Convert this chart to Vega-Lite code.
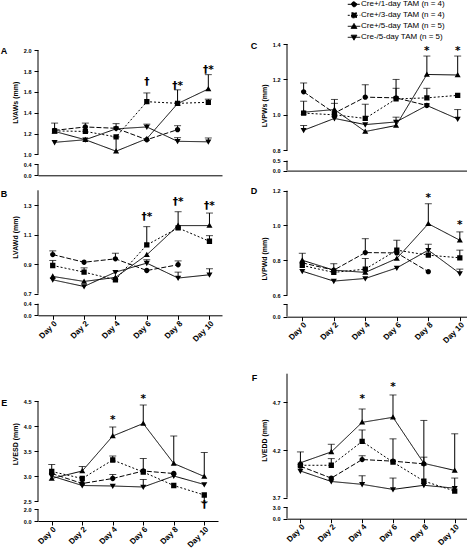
{
  "$schema": "https://vega.github.io/schema/vega-lite/v6.json",
  "autosize": {"type": "pad"},
  "padding": 0,
  "background": "white",
  "bounds": "full",
  "spacing": 28,
  "config": {
    "view": {"stroke": null},
    "font": "Liberation Sans",
    "axis": {"labelFont": "Liberation Sans", "titleFont": "Liberation Sans", "labelFontWeight": "bold", "titleFontWeight": "bold", "labelFontSize": 5.5, "titleFontSize": 7, "labelColor": "black", "titleColor": "black", "domainColor": "black", "tickColor": "black", "tickSize": 4, "grid": false, "labelPadding": 3, "titlePadding": 5, "labelFlush": false, "labelOverlap": false},
    "axisX": {"labelFontSize": 8, "labelAngle": -45, "labelPadding": 0},
    "title": {"font": "Liberation Sans", "fontSize": 9, "fontWeight": "bold", "color": "black"}
  },
  "datasets": {
    "pts": [
      {"p":"A","g":"c1","n":0,"v":1.23,"e":1.30},{"p":"A","g":"c1","n":2,"v":1.263,"e":1.30},{"p":"A","g":"c1","n":4,"v":1.25,"e":1.295},{"p":"A","g":"c1","n":6,"v":1.14},{"p":"A","g":"c1","n":8,"v":1.237,"e":1.275},
      {"p":"A","g":"c3","n":0,"v":1.225},{"p":"A","g":"c3","n":2,"v":1.22},{"p":"A","g":"c3","n":4,"v":1.167},{"p":"A","g":"c3","n":6,"v":1.506,"e":1.59},{"p":"A","g":"c3","n":8,"v":1.49},{"p":"A","g":"c3","n":10,"v":1.50,"e":1.53},
      {"p":"A","g":"c5","n":0,"v":1.22},{"p":"A","g":"c5","n":2,"v":1.14},{"p":"A","g":"c5","n":4,"v":1.03,"e":1.167},{"p":"A","g":"c5","n":6,"v":1.15},{"p":"A","g":"c5","n":8,"v":1.487,"e":1.62},{"p":"A","g":"c5","n":10,"v":1.628,"e":1.766},
      {"p":"A","g":"n5","n":0,"v":1.115},{"p":"A","g":"n5","n":2,"v":1.14},{"p":"A","g":"n5","n":4,"v":1.245},{"p":"A","g":"n5","n":6,"v":1.263,"e":1.29},{"p":"A","g":"n5","n":8,"v":1.125,"e":1.16},{"p":"A","g":"n5","n":10,"v":1.12,"e":1.157},
      {"p":"B","g":"c1","n":0,"v":0.965,"e":0.99},{"p":"B","g":"c1","n":2,"v":0.913},{"p":"B","g":"c1","n":4,"v":0.936,"e":0.974},{"p":"B","g":"c1","n":6,"v":0.857},{"p":"B","g":"c1","n":8,"v":0.896,"e":0.922},
      {"p":"B","g":"c3","n":0,"v":0.891,"e":0.925},{"p":"B","g":"c3","n":2,"v":0.846,"e":0.875},{"p":"B","g":"c3","n":4,"v":0.794},{"p":"B","g":"c3","n":6,"v":1.03,"e":1.154},{"p":"B","g":"c3","n":8,"v":1.145},{"p":"B","g":"c3","n":10,"v":1.055,"e":1.093},
      {"p":"B","g":"c5","n":0,"v":0.817},{"p":"B","g":"c5","n":2,"v":0.783},{"p":"B","g":"c5","n":4,"v":0.81},{"p":"B","g":"c5","n":6,"v":0.963},{"p":"B","g":"c5","n":8,"v":1.161,"e":1.255},{"p":"B","g":"c5","n":10,"v":1.161,"e":1.246},
      {"p":"B","g":"n5","n":0,"v":0.794},{"p":"B","g":"n5","n":2,"v":0.749},{"p":"B","g":"n5","n":4,"v":0.846},{"p":"B","g":"n5","n":6,"v":0.907,"e":0.93},{"p":"B","g":"n5","n":8,"v":0.806,"e":0.846},{"p":"B","g":"n5","n":10,"v":0.828,"e":0.869},
      {"p":"C","g":"c1","n":0,"v":1.13,"e":1.18},{"p":"C","g":"c1","n":2,"v":1.01},{"p":"C","g":"c1","n":4,"v":1.10,"e":1.17},{"p":"C","g":"c1","n":6,"v":1.096,"e":1.15},{"p":"C","g":"c1","n":8,"v":1.053},
      {"p":"C","g":"c3","n":0,"v":1.01,"e":1.077},{"p":"C","g":"c3","n":2,"v":1.0},{"p":"C","g":"c3","n":4,"v":0.98,"e":1.06},{"p":"C","g":"c3","n":6,"v":1.09,"e":1.20},{"p":"C","g":"c3","n":8,"v":1.096,"e":1.15},{"p":"C","g":"c3","n":10,"v":1.11},
      {"p":"C","g":"c5","n":0,"v":1.015},{"p":"C","g":"c5","n":2,"v":1.03,"e":1.087},{"p":"C","g":"c5","n":4,"v":0.906},{"p":"C","g":"c5","n":6,"v":0.94,"e":0.987},{"p":"C","g":"c5","n":8,"v":1.228,"e":1.332},{"p":"C","g":"c5","n":10,"v":1.225,"e":1.332},
      {"p":"C","g":"n5","n":0,"v":0.913,"e":0.94},{"p":"C","g":"n5","n":2,"v":0.98,"e":1.065},{"p":"C","g":"n5","n":4,"v":0.945},{"p":"C","g":"n5","n":6,"v":0.96},{"p":"C","g":"n5","n":8,"v":1.053},{"p":"C","g":"n5","n":10,"v":0.977,"e":1.03},
      {"p":"D","g":"c1","n":0,"v":0.785,"e":0.84},{"p":"D","g":"c1","n":2,"v":0.743,"e":0.78},{"p":"D","g":"c1","n":4,"v":0.844,"e":0.924},{"p":"D","g":"c1","n":6,"v":0.842},{"p":"D","g":"c1","n":8,"v":0.734},
      {"p":"D","g":"c3","n":0,"v":0.77},{"p":"D","g":"c3","n":2,"v":0.73},{"p":"D","g":"c3","n":4,"v":0.749,"e":0.81},{"p":"D","g":"c3","n":6,"v":0.858,"e":0.915},{"p":"D","g":"c3","n":8,"v":0.829},{"p":"D","g":"c3","n":10,"v":0.814,"e":0.858},
      {"p":"D","g":"c5","n":0,"v":0.80},{"p":"D","g":"c5","n":2,"v":0.743},{"p":"D","g":"c5","n":4,"v":0.73},{"p":"D","g":"c5","n":6,"v":0.81},{"p":"D","g":"c5","n":8,"v":1.01,"e":1.125},{"p":"D","g":"c5","n":10,"v":0.915,"e":0.963},
      {"p":"D","g":"n5","n":0,"v":0.737},{"p":"D","g":"n5","n":2,"v":0.68},{"p":"D","g":"n5","n":4,"v":0.695},{"p":"D","g":"n5","n":6,"v":0.756},{"p":"D","g":"n5","n":8,"v":0.858,"e":0.892},{"p":"D","g":"n5","n":10,"v":0.724,"e":0.749},
      {"p":"E","g":"c1","n":0,"v":3.05,"e":3.23},{"p":"E","g":"c1","n":2,"v":2.85},{"p":"E","g":"c1","n":4,"v":2.95,"e":3.03},{"p":"E","g":"c1","n":6,"v":3.10},{"p":"E","g":"c1","n":8,"v":3.05},
      {"p":"E","g":"c3","n":0,"v":3.09},{"p":"E","g":"c3","n":2,"v":2.95},{"p":"E","g":"c3","n":4,"v":3.32,"e":3.40},{"p":"E","g":"c3","n":6,"v":3.08,"e":3.35},{"p":"E","g":"c3","n":8,"v":2.81},{"p":"E","g":"c3","n":10,"v":2.62,"e":2.45},
      {"p":"E","g":"c5","n":0,"v":2.95},{"p":"E","g":"c5","n":2,"v":3.10,"e":3.19},{"p":"E","g":"c5","n":4,"v":3.80,"e":3.98},{"p":"E","g":"c5","n":6,"v":4.05,"e":4.42},{"p":"E","g":"c5","n":8,"v":3.25,"e":3.80},{"p":"E","g":"c5","n":10,"v":2.99,"e":3.47},
      {"p":"E","g":"n5","n":0,"v":3.0},{"p":"E","g":"n5","n":2,"v":2.81},{"p":"E","g":"n5","n":4,"v":2.80},{"p":"E","g":"n5","n":6,"v":2.78,"e":2.93},{"p":"E","g":"n5","n":8,"v":3.0},{"p":"E","g":"n5","n":10,"v":2.83},
      {"p":"F","g":"c1","n":0,"v":4.03},{"p":"F","g":"c1","n":2,"v":3.905},{"p":"F","g":"c1","n":4,"v":4.10,"e":4.14},{"p":"F","g":"c1","n":6,"v":4.083},{"p":"F","g":"c1","n":8,"v":4.055},
      {"p":"F","g":"c3","n":0,"v":4.04,"e":4.18},{"p":"F","g":"c3","n":2,"v":4.04,"e":4.11},{"p":"F","g":"c3","n":4,"v":4.29,"e":4.41},{"p":"F","g":"c3","n":6,"v":4.073,"e":4.317},{"p":"F","g":"c3","n":8,"v":3.874,"e":4.125},{"p":"F","g":"c3","n":10,"v":3.77},
      {"p":"F","g":"c5","n":0,"v":4.066},{"p":"F","g":"c5","n":2,"v":4.18,"e":4.26},{"p":"F","g":"c5","n":4,"v":4.49,"e":4.63},{"p":"F","g":"c5","n":6,"v":4.543,"e":4.777},{"p":"F","g":"c5","n":8,"v":4.06,"e":4.51},{"p":"F","g":"c5","n":10,"v":3.986,"e":4.37},
      {"p":"F","g":"n5","n":0,"v":3.98},{"p":"F","g":"n5","n":2,"v":3.87},{"p":"F","g":"n5","n":4,"v":3.84,"e":3.93},{"p":"F","g":"n5","n":6,"v":3.787,"e":3.906},{"p":"F","g":"n5","n":8,"v":3.83},{"p":"F","g":"n5","n":10,"v":3.80,"e":3.906}
    ],
    "ann": [
      {"p":"A","n":6,"v":1.70,"t":"†"},{"p":"A","n":8,"v":1.66,"t":"†*"},{"p":"A","n":10,"v":1.815,"t":"†*"},
      {"p":"B","n":6,"v":1.217,"t":"†*"},{"p":"B","n":8,"v":1.318,"t":"†*"},{"p":"B","n":10,"v":1.291,"t":"†*"},
      {"p":"C","n":8,"v":1.36,"t":"*"},{"p":"C","n":10,"v":1.36,"t":"*"},
      {"p":"D","n":8,"v":1.157,"t":"*"},{"p":"D","n":10,"v":1.0,"t":"*"},
      {"p":"E","n":4,"v":4.13,"t":"*"},{"p":"E","n":6,"v":4.55,"t":"*"},{"p":"E","n":10,"v":2.25,"t":"†"},
      {"p":"F","n":4,"v":4.735,"t":"*"},{"p":"F","n":6,"v":4.857,"t":"*"}
    ],
    "brk": [
      {"p":"A","lo":0,"hi":0.4},{"p":"A","lo":1.0,"hi":2.0},
      {"p":"B","lo":0,"hi":0.4},{"p":"B","lo":0.7,"hi":1.4},
      {"p":"C","lo":0,"hi":0.5},{"p":"C","lo":0.8,"hi":1.4},
      {"p":"D","lo":0,"hi":0.3},{"p":"D","lo":0.6,"hi":1.2},
      {"p":"E","lo":0,"hi":2.0},{"p":"E","lo":2.5,"hi":4.5},
      {"p":"F","lo":0,"hi":3.0},{"p":"F","lo":3.7,"hi":5.0}
    ]
  },
  "hconcat": [
    {
      "bounds": "flush",
      "spacing": 8,
      "vconcat": [
        {
          "width": 184, "height": 136.3,
          "title": {"text": "A", "orient": "left", "anchor": "end", "angle": 0, "align": "left", "baseline": "middle", "dy": 12.3, "offset": 4, "frame": "group"},
          "layer": [
            {"data": {"name": "pts"}, "transform": [{"filter": "datum.p == 'A'"}],
             "layer": [
               {"mark": {"type": "line", "color": "black", "strokeWidth": 1},
                "encoding": {"x": {"field": "n", "type": "quantitative", "scale": {"domain": [-1.08, 10.89], "nice": false, "zero": false}, "axis": {"values": [0, 2, 4, 6, 8, 10], "tickCount": 50, "labels": false, "ticks": false, "title": null, "labelOverlap": false}},
                             "y": {"field": "v", "type": "quantitative", "scale": {"domain": [0, 0.4, 1.0, 2.0], "range": [136.3, 125.3, 115.3, 11.3], "zero": false, "nice": false}, "axis": {"title": "LVAWs (mm)", "values": [0, 0.4, 1, 1.2, 1.4, 1.6, 1.8, 2], "tickCount": 50, "format": ".1f", "domain": false, "titleY": 63.3, "labelOverlap": false}},
                             "strokeDash": {"field": "g", "type": "nominal", "scale": {"domain": ["c1", "c3", "c5", "n5"], "range": [[5, 2], [2, 2], [1, 0], [1, 0]]}}}},
               {"transform": [{"filter": "isValid(datum.e)"}], "mark": {"type": "rule", "color": "black", "strokeWidth": 1},
                "encoding": {"x": {"field": "n", "type": "quantitative"}, "y": {"field": "v", "type": "quantitative"}, "y2": {"field": "e"}}},
               {"transform": [{"filter": "isValid(datum.e)"}], "mark": {"type": "tick", "orient": "horizontal", "color": "black", "size": 7, "thickness": 1},
                "encoding": {"x": {"field": "n", "type": "quantitative"}, "y": {"field": "e", "type": "quantitative"}}},
               {"mark": {"type": "point", "filled": true, "color": "black", "size": 28, "opacity": 1, "strokeWidth": 0},
                "encoding": {"x": {"field": "n", "type": "quantitative"}, "y": {"field": "v", "type": "quantitative"},
                             "shape": {"field": "g", "type": "nominal", "scale": {"domain": ["c1", "c3", "c5", "n5"], "range": ["M-2.5,0H2.5M1,0A1,1,0,1,1,-1,0A1,1,0,1,1,1,0Z", "M-2.5,0H2.5M-1,-1H1V1H-1Z", "M-2.5,0H2.5M0,-1.15L1.15,0.85H-1.15Z", "M-2.5,0H2.5M0,1.15L1.15,-0.85H-1.15Z"]},
                               "legend": {"orient": "none", "legendX": 312, "legendY": -38.7, "title": null, "padding": 0, "rowPadding": 1, "labelOffset": 3, "labelFontSize": 8, "labelFont": "Liberation Sans", "labelColor": "black", "symbolSize": 25, "symbolStrokeWidth": 1, "symbolStrokeColor": "black", "symbolFillColor": "black",
                                 "labelExpr": "datum.label == 'c1' ? 'Cre+/1-day TAM (n = 4)' : datum.label == 'c3' ? 'Cre+/3-day TAM (n = 4)' : datum.label == 'c5' ? 'Cre+/5-day TAM (n = 5)' : 'Cre-/5-day TAM (n = 5)'",
                                 "encode": {"symbols": {"update": {"stroke": {"value": "black"}, "strokeWidth": {"value": 1}, "fill": {"value": "black"}}}}}}}}
             ]},
            {"data": {"name": "brk"}, "transform": [{"filter": "datum.p == 'A'"}], "mark": {"type": "rule", "color": "black", "strokeWidth": 1},
             "encoding": {"x": {"datum": -1.08, "type": "quantitative"}, "y": {"field": "lo", "type": "quantitative"}, "y2": {"field": "hi"}}},
            {"data": {"name": "ann"}, "transform": [{"filter": "datum.p == 'A'"}], "mark": {"type": "text", "fontSize": 10.5, "font": "DejaVu Sans", "fontWeight": "bold", "color": "black", "baseline": "middle"},
             "encoding": {"x": {"field": "n", "type": "quantitative"}, "y": {"field": "v", "type": "quantitative"}, "text": {"field": "t"}}}
          ]
        },
        {
          "width": 184, "height": 131.3,
          "title": {"text": "B", "orient": "left", "anchor": "end", "angle": 0, "align": "left", "baseline": "middle", "dy": 10, "offset": 4, "frame": "group"},
          "layer": [
            {"data": {"name": "pts"}, "transform": [{"filter": "datum.p == 'B'"}],
             "layer": [
               {"mark": {"type": "line", "color": "black", "strokeWidth": 1},
                "encoding": {"x": {"field": "n", "type": "quantitative", "scale": {"domain": [-0.94, 10.8], "nice": false, "zero": false}, "axis": {"values": [0, 2, 4, 6, 8, 10], "tickCount": 50, "labelExpr": "'Day ' + datum.value", "title": null, "labelOverlap": false}},
                             "y": {"field": "v", "type": "quantitative", "scale": {"domain": [0, 0.4, 0.7, 1.4], "range": [131.3, 119.7, 109.7, 6.3], "zero": false, "nice": false}, "axis": {"title": "LVAWd (mm)", "values": [0, 0.4, 0.7, 0.9, 1.1, 1.3], "tickCount": 50, "format": ".1f", "domain": false, "titleY": 53, "labelOverlap": false}},
                             "strokeDash": {"field": "g", "type": "nominal", "scale": {"domain": ["c1", "c3", "c5", "n5"], "range": [[5, 2], [2, 2], [1, 0], [1, 0]]}}}},
               {"transform": [{"filter": "isValid(datum.e)"}], "mark": {"type": "rule", "color": "black", "strokeWidth": 1},
                "encoding": {"x": {"field": "n", "type": "quantitative"}, "y": {"field": "v", "type": "quantitative"}, "y2": {"field": "e"}}},
               {"transform": [{"filter": "isValid(datum.e)"}], "mark": {"type": "tick", "orient": "horizontal", "color": "black", "size": 7, "thickness": 1},
                "encoding": {"x": {"field": "n", "type": "quantitative"}, "y": {"field": "e", "type": "quantitative"}}},
               {"mark": {"type": "point", "filled": true, "color": "black", "size": 28, "opacity": 1, "strokeWidth": 0},
                "encoding": {"x": {"field": "n", "type": "quantitative"}, "y": {"field": "v", "type": "quantitative"},
                             "shape": {"field": "g", "type": "nominal", "scale": {"domain": ["c1", "c3", "c5", "n5"], "range": ["M-2.5,0H2.5M1,0A1,1,0,1,1,-1,0A1,1,0,1,1,1,0Z", "M-2.5,0H2.5M-1,-1H1V1H-1Z", "M-2.5,0H2.5M0,-1.15L1.15,0.85H-1.15Z", "M-2.5,0H2.5M0,1.15L1.15,-0.85H-1.15Z"]}}}}
             ]},
            {"data": {"name": "brk"}, "transform": [{"filter": "datum.p == 'B'"}], "mark": {"type": "rule", "color": "black", "strokeWidth": 1},
             "encoding": {"x": {"datum": -0.94, "type": "quantitative"}, "y": {"field": "lo", "type": "quantitative"}, "y2": {"field": "hi"}}},
            {"data": {"name": "ann"}, "transform": [{"filter": "datum.p == 'B'"}], "mark": {"type": "text", "fontSize": 10.5, "font": "DejaVu Sans", "fontWeight": "bold", "color": "black", "baseline": "middle"},
             "encoding": {"x": {"field": "n", "type": "quantitative"}, "y": {"field": "v", "type": "quantitative"}, "text": {"field": "t"}}}
          ]
        },
        {
          "width": 180, "height": 197,
          "title": {"text": "E", "orient": "left", "anchor": "end", "angle": 0, "align": "left", "baseline": "middle", "dy": 78.7, "offset": 4, "frame": "group"},
          "layer": [
            {"data": {"name": "pts"}, "transform": [{"filter": "datum.p == 'E'"}],
             "layer": [
               {"mark": {"type": "line", "color": "black", "strokeWidth": 1},
                "encoding": {"x": {"field": "n", "type": "quantitative", "scale": {"domain": [-0.9, 10.9], "nice": false, "zero": false}, "axis": {"values": [0, 2, 4, 6, 8, 10], "tickCount": 50, "labelExpr": "'Day ' + datum.value", "title": null, "labelOverlap": false}},
                             "y": {"field": "v", "type": "quantitative", "scale": {"domain": [0, 2.0, 2.5, 4.5], "range": [197, 185.4, 177, 77], "zero": false, "nice": false}, "axis": {"title": "LVESD (mm)", "values": [0, 2, 2.5, 3, 3.5, 4, 4.5], "tickCount": 50, "format": ".1f", "domain": false, "titleY": 119.7, "labelOverlap": false}},
                             "strokeDash": {"field": "g", "type": "nominal", "scale": {"domain": ["c1", "c3", "c5", "n5"], "range": [[5, 2], [2, 2], [1, 0], [1, 0]]}}}},
               {"transform": [{"filter": "isValid(datum.e)"}], "mark": {"type": "rule", "color": "black", "strokeWidth": 1},
                "encoding": {"x": {"field": "n", "type": "quantitative"}, "y": {"field": "v", "type": "quantitative"}, "y2": {"field": "e"}}},
               {"transform": [{"filter": "isValid(datum.e)"}], "mark": {"type": "tick", "orient": "horizontal", "color": "black", "size": 7, "thickness": 1},
                "encoding": {"x": {"field": "n", "type": "quantitative"}, "y": {"field": "e", "type": "quantitative"}}},
               {"mark": {"type": "point", "filled": true, "color": "black", "size": 28, "opacity": 1, "strokeWidth": 0},
                "encoding": {"x": {"field": "n", "type": "quantitative"}, "y": {"field": "v", "type": "quantitative"},
                             "shape": {"field": "g", "type": "nominal", "scale": {"domain": ["c1", "c3", "c5", "n5"], "range": ["M-2.5,0H2.5M1,0A1,1,0,1,1,-1,0A1,1,0,1,1,1,0Z", "M-2.5,0H2.5M-1,-1H1V1H-1Z", "M-2.5,0H2.5M0,-1.15L1.15,0.85H-1.15Z", "M-2.5,0H2.5M0,1.15L1.15,-0.85H-1.15Z"]}}}}
             ]},
            {"data": {"name": "brk"}, "transform": [{"filter": "datum.p == 'E'"}], "mark": {"type": "rule", "color": "black", "strokeWidth": 1},
             "encoding": {"x": {"datum": -0.9, "type": "quantitative"}, "y": {"field": "lo", "type": "quantitative"}, "y2": {"field": "hi"}}},
            {"data": {"name": "ann"}, "transform": [{"filter": "datum.p == 'E'"}], "mark": {"type": "text", "fontSize": 10.5, "font": "DejaVu Sans", "fontWeight": "bold", "color": "black", "baseline": "middle"},
             "encoding": {"x": {"field": "n", "type": "quantitative"}, "y": {"field": "v", "type": "quantitative"}, "text": {"field": "t"}}}
          ]
        }
      ]
    },
    {
      "bounds": "flush",
      "spacing": 8,
      "vconcat": [
        {
          "width": 185, "height": 131.6,
          "title": {"text": "C", "orient": "left", "anchor": "end", "angle": 0, "align": "left", "baseline": "middle", "dy": 6.8, "offset": 3, "frame": "group"},
          "layer": [
            {"data": {"name": "pts"}, "transform": [{"filter": "datum.p == 'C'"}],
             "layer": [
               {"mark": {"type": "line", "color": "black", "strokeWidth": 1},
                "encoding": {"x": {"field": "n", "type": "quantitative", "scale": {"domain": [-1.08, 10.93], "nice": false, "zero": false}, "axis": {"values": [0, 2, 4, 6, 8, 10], "tickCount": 50, "labels": false, "ticks": false, "title": null, "labelOverlap": false}},
                             "y": {"field": "v", "type": "quantitative", "scale": {"domain": [0, 0.5, 0.8, 1.4], "range": [131.6, 121.6, 111.3, 5], "zero": false, "nice": false}, "axis": {"title": "LVPWs (mm)", "values": [0, 0.5, 0.8, 1.0, 1.2, 1.4], "tickCount": 50, "format": ".1f", "domain": false, "titleY": 66.3, "labelOverlap": false}},
                             "strokeDash": {"field": "g", "type": "nominal", "scale": {"domain": ["c1", "c3", "c5", "n5"], "range": [[5, 2], [2, 2], [1, 0], [1, 0]]}}}},
               {"transform": [{"filter": "isValid(datum.e)"}], "mark": {"type": "rule", "color": "black", "strokeWidth": 1},
                "encoding": {"x": {"field": "n", "type": "quantitative"}, "y": {"field": "v", "type": "quantitative"}, "y2": {"field": "e"}}},
               {"transform": [{"filter": "isValid(datum.e)"}], "mark": {"type": "tick", "orient": "horizontal", "color": "black", "size": 7, "thickness": 1},
                "encoding": {"x": {"field": "n", "type": "quantitative"}, "y": {"field": "e", "type": "quantitative"}}},
               {"mark": {"type": "point", "filled": true, "color": "black", "size": 28, "opacity": 1, "strokeWidth": 0},
                "encoding": {"x": {"field": "n", "type": "quantitative"}, "y": {"field": "v", "type": "quantitative"},
                             "shape": {"field": "g", "type": "nominal", "scale": {"domain": ["c1", "c3", "c5", "n5"], "range": ["M-2.5,0H2.5M1,0A1,1,0,1,1,-1,0A1,1,0,1,1,1,0Z", "M-2.5,0H2.5M-1,-1H1V1H-1Z", "M-2.5,0H2.5M0,-1.15L1.15,0.85H-1.15Z", "M-2.5,0H2.5M0,1.15L1.15,-0.85H-1.15Z"]}}}}
             ]},
            {"data": {"name": "brk"}, "transform": [{"filter": "datum.p == 'C'"}], "mark": {"type": "rule", "color": "black", "strokeWidth": 1},
             "encoding": {"x": {"datum": -1.08, "type": "quantitative"}, "y": {"field": "lo", "type": "quantitative"}, "y2": {"field": "hi"}}},
            {"data": {"name": "ann"}, "transform": [{"filter": "datum.p == 'C'"}], "mark": {"type": "text", "fontSize": 10.5, "font": "DejaVu Sans", "fontWeight": "bold", "color": "black", "baseline": "middle"},
             "encoding": {"x": {"field": "n", "type": "quantitative"}, "y": {"field": "v", "type": "quantitative"}, "text": {"field": "t"}}}
          ]
        },
        {
          "width": 187, "height": 137.7,
          "title": {"text": "D", "orient": "left", "anchor": "end", "angle": 0, "align": "left", "baseline": "middle", "dy": 12.2, "offset": 3, "frame": "group"},
          "layer": [
            {"data": {"name": "pts"}, "transform": [{"filter": "datum.p == 'D'"}],
             "layer": [
               {"mark": {"type": "line", "color": "black", "strokeWidth": 1},
                "encoding": {"x": {"field": "n", "type": "quantitative", "scale": {"domain": [-0.97, 10.9], "nice": false, "zero": false}, "axis": {"values": [0, 2, 4, 6, 8, 10], "tickCount": 50, "labelExpr": "'Day ' + datum.value", "title": null, "labelOverlap": false}},
                             "y": {"field": "v", "type": "quantitative", "scale": {"domain": [0, 0.3, 0.6, 1.2], "range": [137.7, 125.4, 116, 11.7], "zero": false, "nice": false}, "axis": {"title": "LVPWd (mm)", "values": [0, 0.3, 0.6, 0.8, 1.0, 1.2], "tickCount": 50, "labelExpr": "datum.value == 0.3 ? '' : format(datum.value, '.1f')", "domain": false, "titleY": 79.4, "labelOverlap": false}},
                             "strokeDash": {"field": "g", "type": "nominal", "scale": {"domain": ["c1", "c3", "c5", "n5"], "range": [[5, 2], [2, 2], [1, 0], [1, 0]]}}}},
               {"transform": [{"filter": "isValid(datum.e)"}], "mark": {"type": "rule", "color": "black", "strokeWidth": 1},
                "encoding": {"x": {"field": "n", "type": "quantitative"}, "y": {"field": "v", "type": "quantitative"}, "y2": {"field": "e"}}},
               {"transform": [{"filter": "isValid(datum.e)"}], "mark": {"type": "tick", "orient": "horizontal", "color": "black", "size": 7, "thickness": 1},
                "encoding": {"x": {"field": "n", "type": "quantitative"}, "y": {"field": "e", "type": "quantitative"}}},
               {"mark": {"type": "point", "filled": true, "color": "black", "size": 28, "opacity": 1, "strokeWidth": 0},
                "encoding": {"x": {"field": "n", "type": "quantitative"}, "y": {"field": "v", "type": "quantitative"},
                             "shape": {"field": "g", "type": "nominal", "scale": {"domain": ["c1", "c3", "c5", "n5"], "range": ["M-2.5,0H2.5M1,0A1,1,0,1,1,-1,0A1,1,0,1,1,1,0Z", "M-2.5,0H2.5M-1,-1H1V1H-1Z", "M-2.5,0H2.5M0,-1.15L1.15,0.85H-1.15Z", "M-2.5,0H2.5M0,1.15L1.15,-0.85H-1.15Z"]}}}}
             ]},
            {"data": {"name": "brk"}, "transform": [{"filter": "datum.p == 'D'"}], "mark": {"type": "rule", "color": "black", "strokeWidth": 1},
             "encoding": {"x": {"datum": -0.97, "type": "quantitative"}, "y": {"field": "lo", "type": "quantitative"}, "y2": {"field": "hi"}}},
            {"data": {"name": "ann"}, "transform": [{"filter": "datum.p == 'D'"}], "mark": {"type": "text", "fontSize": 10.5, "font": "DejaVu Sans", "fontWeight": "bold", "color": "black", "baseline": "middle"},
             "encoding": {"x": {"field": "n", "type": "quantitative"}, "y": {"field": "v", "type": "quantitative"}, "text": {"field": "t"}}}
          ]
        },
        {
          "width": 189, "height": 193.7,
          "title": {"text": "F", "orient": "left", "anchor": "end", "angle": 0, "align": "left", "baseline": "middle", "dy": 52.5, "offset": 3, "frame": "group"},
          "layer": [
            {"data": {"name": "pts"}, "transform": [{"filter": "datum.p == 'F'"}],
             "layer": [
               {"mark": {"type": "line", "color": "black", "strokeWidth": 1},
                "encoding": {"x": {"field": "n", "type": "quantitative", "scale": {"domain": [-0.87, 11.38], "nice": false, "zero": false}, "axis": {"values": [0, 2, 4, 6, 8, 10], "tickCount": 50, "labelExpr": "'Day ' + datum.value", "title": null, "labelOverlap": false}},
                             "y": {"field": "v", "type": "quantitative", "scale": {"domain": [0, 3.0, 3.7, 5.0], "range": [193.7, 182, 172.7, 48.7], "zero": false, "nice": false}, "axis": {"title": "LVEDD (mm)", "values": [0, 3, 3.7, 4.2, 4.7], "tickCount": 50, "format": ".1f", "domain": false, "titleY": 115, "labelOverlap": false}},
                             "strokeDash": {"field": "g", "type": "nominal", "scale": {"domain": ["c1", "c3", "c5", "n5"], "range": [[5, 2], [2, 2], [1, 0], [1, 0]]}}}},
               {"transform": [{"filter": "isValid(datum.e)"}], "mark": {"type": "rule", "color": "black", "strokeWidth": 1},
                "encoding": {"x": {"field": "n", "type": "quantitative"}, "y": {"field": "v", "type": "quantitative"}, "y2": {"field": "e"}}},
               {"transform": [{"filter": "isValid(datum.e)"}], "mark": {"type": "tick", "orient": "horizontal", "color": "black", "size": 7, "thickness": 1},
                "encoding": {"x": {"field": "n", "type": "quantitative"}, "y": {"field": "e", "type": "quantitative"}}},
               {"mark": {"type": "point", "filled": true, "color": "black", "size": 28, "opacity": 1, "strokeWidth": 0},
                "encoding": {"x": {"field": "n", "type": "quantitative"}, "y": {"field": "v", "type": "quantitative"},
                             "shape": {"field": "g", "type": "nominal", "scale": {"domain": ["c1", "c3", "c5", "n5"], "range": ["M-2.5,0H2.5M1,0A1,1,0,1,1,-1,0A1,1,0,1,1,1,0Z", "M-2.5,0H2.5M-1,-1H1V1H-1Z", "M-2.5,0H2.5M0,-1.15L1.15,0.85H-1.15Z", "M-2.5,0H2.5M0,1.15L1.15,-0.85H-1.15Z"]}}}}
             ]},
            {"data": {"name": "brk"}, "transform": [{"filter": "datum.p == 'F'"}], "mark": {"type": "rule", "color": "black", "strokeWidth": 1},
             "encoding": {"x": {"datum": -0.87, "type": "quantitative"}, "y": {"field": "lo", "type": "quantitative"}, "y2": {"field": "hi"}}},
            {"data": {"name": "ann"}, "transform": [{"filter": "datum.p == 'F'"}], "mark": {"type": "text", "fontSize": 10.5, "font": "DejaVu Sans", "fontWeight": "bold", "color": "black", "baseline": "middle"},
             "encoding": {"x": {"field": "n", "type": "quantitative"}, "y": {"field": "v", "type": "quantitative"}, "text": {"field": "t"}}}
          ]
        }
      ]
    }
  ]
}
